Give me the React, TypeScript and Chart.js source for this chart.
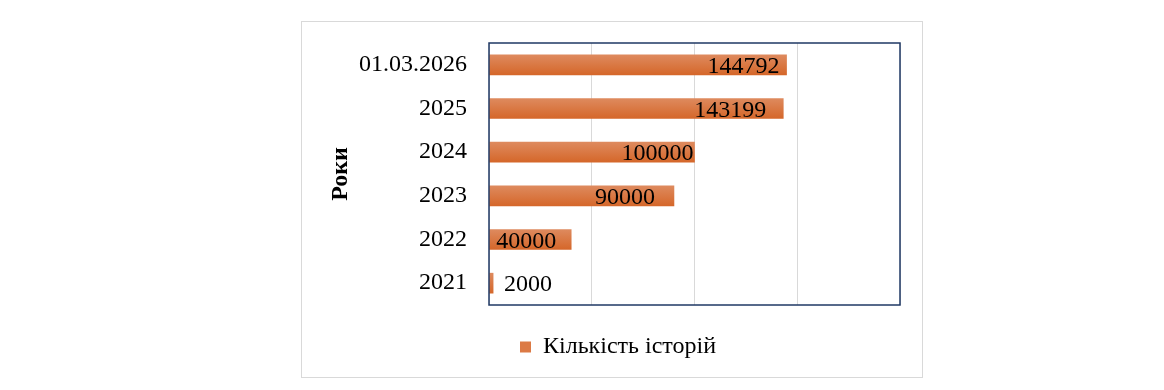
import React, { useEffect, useRef } from 'react';
import { Chart, registerables } from 'chart.js';

Chart.register(...registerables);

// ---- data ----
const categories = ['2021', '2022', '2023', '2024', '2025', '01.03.2026'];
const storyCounts = [2000, 40000, 90000, 100000, 143199, 144792];
const seriesName = 'Кількість історій';
const axisTitle = 'Роки';
const xTicks = [0, 50000, 100000, 150000, 200000];

// ---- label styling (px inset from bar end; negative = placed outside the bar) ----
const labelInset = [-11, 15, 19, 1, 17, 7];

const FONT = "'Liberation Serif', 'Times New Roman', serif";
const BAR_SOLID = '#dc7a45';

const plotFrame = {
  id: 'plotFrame',
  afterDatasetsDraw(chart: any) {
    const { ctx, chartArea: a } = chart;
    ctx.save();
    ctx.strokeStyle = '#1f3864';
    ctx.lineWidth = 1.5;
    ctx.strokeRect(a.left, a.top, a.right - a.left, a.bottom - a.top);
    ctx.restore();
  },
};

const legendShift = {
  id: 'legendShift',
  afterLayout(chart: any) {
    const lg = chart.legend;
    if (lg) {
      lg.left += 17;
      lg.right += 17;
    }
  },
};

const valueLabels = {
  id: 'valueLabels',
  afterDatasetsDraw(chart: any) {
    const { ctx } = chart;
    const meta = chart.getDatasetMeta(0);
    const data = chart.data.datasets[0].data as number[];
    ctx.save();
    ctx.font = `24px ${FONT}`;
    ctx.fillStyle = '#000';
    ctx.textBaseline = 'alphabetic';
    meta.data.forEach((el: any, i: number) => {
      const inset = labelInset[i] ?? 4;
      const text = String(data[i]);
      const y = el.y + 8;
      ctx.textAlign = inset < 0 ? 'left' : 'right';
      ctx.fillText(text, el.x - inset, y);
    });
    ctx.restore();
  },
};

export default function App() {
  const canvasRef = useRef<HTMLCanvasElement | null>(null);

  useEffect(() => {
    if (!canvasRef.current) return;
    const chart = new Chart(canvasRef.current, {
      type: 'bar',
      data: {
        labels: categories,
        datasets: [
          {
            label: seriesName,
            data: storyCounts,
            barThickness: 20,
            borderWidth: 0,
            backgroundColor: (c: any) => {
              const ch = c.chart;
              const ys = ch.scales && ch.scales.y;
              if (c.type !== 'data' || !ys) return BAR_SOLID;
              const yc = ys.getPixelForValue(c.dataIndex);
              if (!isFinite(yc)) return BAR_SOLID;
              const g = ch.ctx.createLinearGradient(0, yc - 10, 0, yc + 10);
              g.addColorStop(0, '#de8a5e');
              g.addColorStop(1, '#d5672a');
              return g;
            },
          },
        ],
      },
      options: {
        indexAxis: 'y',
        animation: false,
        responsive: true,
        maintainAspectRatio: false,
        layout: { padding: { top: 21, right: 22, left: 0, bottom: 8 } },
        scales: {
          x: {
            min: xTicks[0],
            max: xTicks[xTicks.length - 1],
            ticks: { display: false, stepSize: xTicks[1] - xTicks[0] },
            grid: { color: '#d9d9d9', lineWidth: 1, drawTicks: false },
            border: { display: false },
            afterFit: (s: any) => {
              s.height = 20;
              s.paddingLeft = 0;
              s.paddingRight = 0;
            },
          },
          y: {
            reverse: true,
            grid: { display: false, drawTicks: false },
            border: { display: false },
            ticks: {
              padding: 22,
              color: '#000',
              font: { family: FONT, size: 24 },
            },
            title: {
              display: true,
              text: axisTitle,
              color: '#000',
              font: { family: FONT, size: 24, weight: 'bold' },
              padding: { top: 24, bottom: 0 },
            },
            afterFit: (s: any) => {
              s.width = 187;
              s.paddingTop = 0;
              s.paddingBottom = 0;
            },
          },
        },
        plugins: {
          tooltip: { enabled: false },
          legend: {
            display: true,
            position: 'bottom',
            labels: {
              color: '#000',
              font: { family: FONT, size: 24 },
              boxWidth: 11,
              boxHeight: 11,
              padding: 10,
              generateLabels: () => [
                {
                  text: seriesName,
                  fillStyle: BAR_SOLID,
                  strokeStyle: BAR_SOLID,
                  lineWidth: 0,
                  hidden: false,
                  datasetIndex: 0,
                },
              ],
            },
          },
        },
      } as any,
      plugins: [plotFrame, valueLabels, legendShift],
    });
    return () => chart.destroy();
  }, []);

  return (
    <div
      style={{
        position: 'fixed',
        left: 301,
        top: 21,
        width: 622,
        height: 357,
        boxSizing: 'border-box',
        border: '1px solid #d9d9d9',
        background: '#fff',
      }}
    >
      <div style={{ position: 'relative', width: 620, height: 355 }}>
        <canvas ref={canvasRef} />
      </div>
    </div>
  );
}
